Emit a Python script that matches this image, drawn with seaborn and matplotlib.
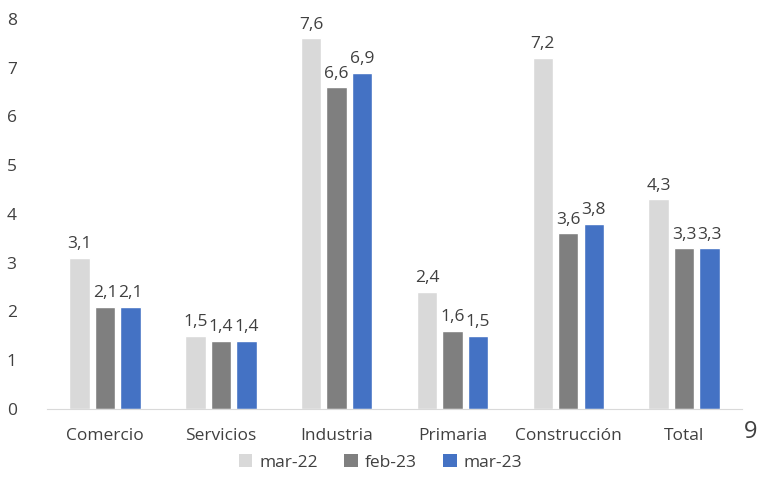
import matplotlib
matplotlib.use("Agg")
import matplotlib.pyplot as plt
import seaborn as sns
import pandas as pd
from matplotlib.patches import Patch

categories = ["Comercio", "Servicios", "Industria", "Primaria", "Construcción", "Total"]
series = ["mar-22", "feb-23", "mar-23"]
mar22 = [3.1, 1.5, 7.6, 2.4, 7.2, 4.3]
feb23 = [2.1, 1.4, 6.6, 1.6, 3.6, 3.3]
mar23 = [2.1, 1.4, 6.9, 1.5, 3.8, 3.3]
colors = ["#D9D9D9", "#7F7F7F", "#4472C4"]
yticks = [0, 1, 2, 3, 4, 5, 6, 7, 8]

sns.set_style("white")
plt.rcParams["font.family"] = ["Open Sans", "DejaVu Sans"]
txtc = "#404040"
fs = 12.5

rows = []
for s, vals in zip(series, [mar22, feb23, mar23]):
    for c, v in zip(categories, vals):
        rows.append({"cat": c, "serie": s, "val": v})
df = pd.DataFrame(rows)

fig = plt.figure(figsize=(7.61, 4.84), dpi=100)
ax = fig.add_axes([0.062, 0.155, 0.913, 0.806])
sns.barplot(data=df, x="cat", y="val", hue="serie", order=categories, hue_order=series,
            palette=colors, width=0.66, gap=0.2, ax=ax, legend=False, saturation=1)

for cont in ax.containers:
    labels = [f"{v:.1f}".replace(".", ",") for v in cont.datavalues]
    ax.bar_label(cont, labels=labels, padding=4, fontsize=fs, color=txtc)

ax.set_ylim(0, 8)
ax.set_xlim(-0.5, len(categories) - 0.5)
ax.set_yticks(yticks)
ax.set_yticklabels([str(t) for t in yticks], fontsize=fs, color=txtc)
ax.set_xlabel("")
ax.set_ylabel("")
ax.tick_params(axis="x", which="major", length=0, pad=14, labelsize=fs, labelcolor=txtc)
ax.tick_params(axis="y", length=0, pad=22)
ax.set_xticks([i - 0.5 for i in range(len(categories) + 1)], minor=True)
ax.tick_params(axis="x", which="minor", length=6, color="#D9D9D9", width=1)
for sp in ["top", "right", "left"]:
    ax.spines[sp].set_visible(False)
ax.spines["bottom"].set_color("#D9D9D9")

handles = [Patch(facecolor=c, edgecolor="none") for c in colors]
fig.legend(handles, series, loc="center", bbox_to_anchor=(0.5, 0.045), ncol=3, frameon=False,
           fontsize=fs, handlelength=0.8, handleheight=0.8, columnspacing=1.5, handletextpad=0.4,
           labelcolor=txtc)

fig.text(0.978, 0.108, "9", fontsize=17, color=txtc, ha="left", va="center")

fig.savefig("out.png", dpi=100)
